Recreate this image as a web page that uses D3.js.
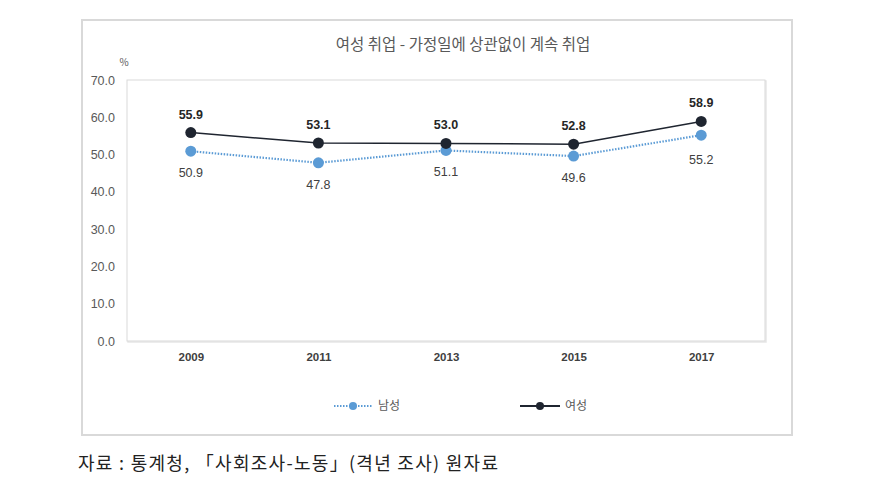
<!DOCTYPE html>
<html><head><meta charset="utf-8">
<script src="https://cdn.jsdelivr.net/npm/d3@7"></script>
<style>body{margin:0;background:#fff;}svg{display:block;font-family:"Noto Sans CJK KR","Noto Sans",sans-serif;}</style>
</head><body><svg id="c" width="885" height="477"></svg>
<script>
const years = ["2009","2011","2013","2015","2017"];
const male = [50.9, 47.8, 51.1, 49.6, 55.2];
const female = [55.9, 53.1, 53.0, 52.8, 58.9];
const yTicks = [0,10,20,30,40,50,60,70];
const title = "여성 취업 - 가정일에 상관없이 계속 취업";
const source = "자료 : 통계청, 「사회조사-노동」(격년 조사) 원자료";

const svg = d3.select("#c");
const L=127, R=765, T=80, B=341;
const x = d3.scalePoint().domain(years).range([L,R]).padding(0.5);
const y = d3.scaleLinear().domain([0,70]).range([B,T]);

// outer frame
svg.append("rect").attr("x",82).attr("y",20).attr("width",710).attr("height",415)
  .attr("fill","#fff").attr("stroke","#d9d9d9").attr("stroke-width",2);
// plot area
svg.append("rect").attr("x",L+1).attr("y",T+1).attr("width",R-L).attr("height",B-T)
  .attr("fill","none").attr("stroke","#e6e6e6").attr("stroke-width",1.5);
svg.append("rect").attr("x",L).attr("y",T).attr("width",R-L).attr("height",B-T)
  .attr("fill","#fff").attr("stroke","#d9d9d9").attr("stroke-width",1);

svg.append("text").attr("x",463).attr("y",50).attr("text-anchor","middle")
  .attr("font-size",15.5).attr("fill","#595959").text(title);
svg.append("text").attr("x",124).attr("y",66).attr("text-anchor","middle")
  .attr("font-size",10).attr("fill","#595959").text("%");

const ya = svg.append("g").attr("transform",`translate(${L},0)`)
  .call(d3.axisLeft(y).tickValues(yTicks).tickFormat(d3.format(".1f")).tickSize(0).tickPadding(12));
ya.select(".domain").remove();
ya.selectAll("text").attr("font-size",12.5).attr("fill","#595959").attr("font-family","Liberation Sans, Arial, sans-serif");

const xa = svg.append("g").attr("transform",`translate(0,${B})`)
  .call(d3.axisBottom(x).tickSize(0).tickPadding(12));
xa.select(".domain").remove();
xa.selectAll("text").attr("font-size",11.5).attr("fill","#404040").attr("font-family","Liberation Sans Narrow, Liberation Sans, Arial, sans-serif").attr("font-weight","bold");

const line = d3.line().x((d,i)=>x(years[i])).y(d=>y(d));
svg.append("path").datum(male).attr("d",line).attr("fill","none")
  .attr("stroke","#5b9bd5").attr("stroke-width",2.2).attr("stroke-dasharray","1.5,1.5");
svg.append("path").datum(female).attr("d",line).attr("fill","none")
  .attr("stroke","#1f2530").attr("stroke-width",1.5);

svg.selectAll(".mm").data(male).join("circle").attr("cx",(d,i)=>x(years[i])).attr("cy",d=>y(d))
  .attr("r",5.5).attr("fill","#5b9bd5");
svg.selectAll(".fm").data(female).join("circle").attr("cx",(d,i)=>x(years[i])).attr("cy",d=>y(d))
  .attr("r",5.5).attr("fill","#1f2530");

svg.selectAll(".fl").data(female).join("text").attr("x",(d,i)=>x(years[i])).attr("y",d=>y(d)-14)
  .attr("text-anchor","middle").attr("font-size",12.5).attr("font-weight","bold").attr("fill","#262626")
  .attr("font-family","Liberation Sans, Arial, sans-serif").text(d=>d.toFixed(1));
svg.selectAll(".ml").data(male).join("text").attr("x",(d,i)=>x(years[i])).attr("y",(d,i)=>y(d)+ (i==4?29:26))
  .attr("text-anchor","middle").attr("font-size",12.5).attr("fill","#404040")
  .attr("font-family","Liberation Sans, Arial, sans-serif").text(d=>d.toFixed(1));

// legend
const lg = svg.append("g");
lg.append("line").attr("x1",334).attr("x2",372).attr("y1",406).attr("y2",406)
  .attr("stroke","#5b9bd5").attr("stroke-width",2).attr("stroke-dasharray","1.5,1.5");
lg.append("circle").attr("cx",353).attr("cy",406).attr("r",4).attr("fill","#5b9bd5");
lg.append("text").attr("x",378).attr("y",410).attr("font-size",12).attr("fill","#595959").text("남성");
lg.append("line").attr("x1",520).attr("x2",560).attr("y1",406).attr("y2",406)
  .attr("stroke","#1f2530").attr("stroke-width",1.8);
lg.append("circle").attr("cx",540).attr("cy",406).attr("r",4).attr("fill","#1f2530");
lg.append("text").attr("x",565).attr("y",410).attr("font-size",12).attr("fill","#595959").text("여성");

svg.append("text").attr("x",78).attr("y",470).attr("font-size",18).attr("fill","#222")
  .attr("textLength",420).attr("lengthAdjust","spacing")
  .text(source);
</script></body></html>
